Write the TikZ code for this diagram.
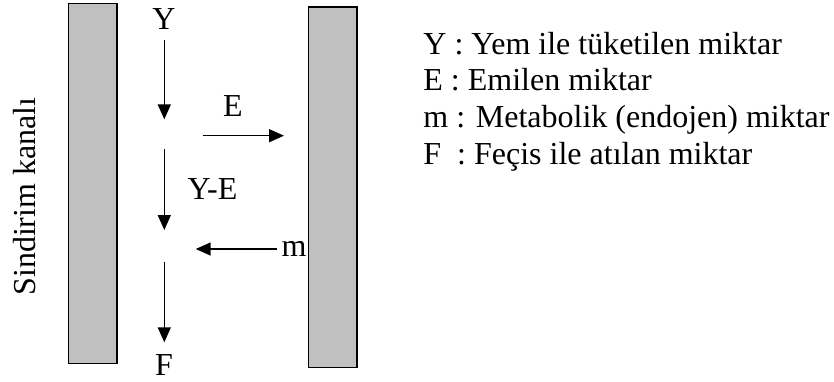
\documentclass[tikz,border=0pt]{standalone}
\usepackage{fontspec}
\setmainfont{Liberation Serif}
\usetikzlibrary{arrows.meta}
\definecolor{wallgray}{RGB}{192,192,192}
\begin{document}
\begin{tikzpicture}[x=0.5pt,y=-0.5pt,
  wall/.style={draw=black,fill=wallgray,line width=0.8pt},
  flow/.style={line width=0.75pt,-{Triangle[length=7.5pt,width=6.5pt]}},
  lbl/.style={anchor=base,inner sep=0pt,font=\fontsize{16}{19}\selectfont},
  leg/.style={anchor=base west,inner sep=0pt,font=\fontsize{16}{19}\selectfont}]
\useasboundingbox (0,0) rectangle (834,381);
% the two walls of the channel
\filldraw[wall] (68.3,3.3) rectangle (116.7,363.3);
\filldraw[wall] (308.3,6.7) rectangle (356.7,367.3);
% side caption
\node[lbl,rotate=90] (canal) at (35,196.5) {Sindirim kanalı};
% labels
\node[lbl] (Y) at (164,29.3) {Y};
\node[lbl] (E) at (233,116.7) {E};
\node[lbl] (YE) at (212.5,199) {Y-E};
\node[lbl] (m) at (294,256) {m};
\node[lbl] (F) at (164,375) {F};
% arrow end points
\coordinate (a1s) at (164.3,40);   \coordinate (a1e) at (164.3,119.3);
\coordinate (eS) at (202.7,135.7); \coordinate (eE) at (284,135.7);
\coordinate (a2s) at (164.3,149);  \coordinate (a2e) at (164.3,230);
\coordinate (mS) at (276.7,249);   \coordinate (mE) at (195.7,249);
\coordinate (a3s) at (164.3,261.7);\coordinate (a3e) at (164.3,342.3);
\draw[flow] (a1s) -- (a1e);
\draw[flow] (eS) -- (eE);
\draw[flow] (a2s) -- (a2e);
\draw[flow] (mS) -- (mE);
\draw[flow] (a3s) -- (a3e);
% legend
\node[leg] (l1) at (423,54) {Y : Yem ile tüketilen miktar};
\node[leg] (l2) at (423,90.7) {E : Emilen miktar};
\node[leg] (l3) at (423,127.7) {m : Metabolik (endojen) miktar};
\node[leg] (l4) at (423,164) {F\ \ : Feçis ile atılan miktar};
\end{tikzpicture}
\end{document}
